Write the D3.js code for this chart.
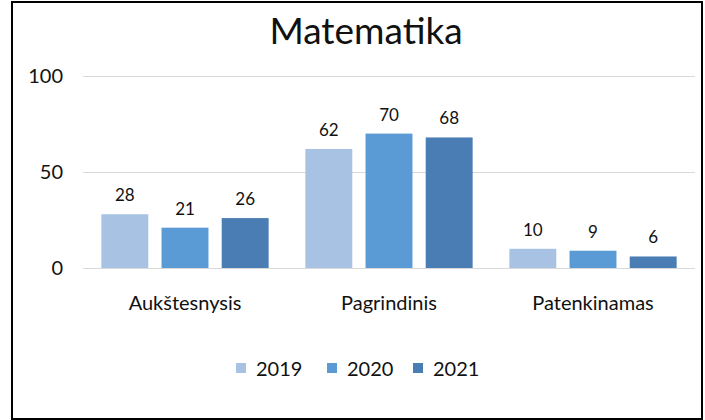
<!DOCTYPE html>
<html>
<head>
<meta charset="utf-8">
<script src="https://cdn.jsdelivr.net/npm/d3@7"></script>
<style>
  body { margin: 0; background: #fff; }
</style>
</head>
<body>
<script>
// data
let categories = ['Aukštesnysis', 'Pagrindinis', 'Patenkinamas'];
let years = ['2019', '2020', '2021'];
let values2019 = [28, 62, 10];
let values2020 = [21, 70, 9];
let values2021 = [26, 68, 6];
let yTicks = [0, 50, 100];
let colors = ['#a7c2e3', '#5b9bd5', '#4a7db3'];

let seriesValues = [values2019, values2020, values2021];
let rows = categories.map((c, i) => ({ category: c, values: seriesValues.map(s => s[i]) }));

//---------------------------------------------------------------------------------------------------//

let width = 705, height = 420;
let svg = d3.select('body').append('svg').attr('width', width).attr('height', height);

// frame
svg.append('rect')
    .attr('x', 12).attr('y', 2)
    .attr('width', 690).attr('height', 417)
    .attr('fill', '#fff').attr('stroke', '#000').attr('stroke-width', 2);

let font = 'Lato, "Open Sans", sans-serif';

let left = 83, right = 695;
let x0 = d3.scaleBand().domain(categories).range([left, right]).paddingInner(0.18).paddingOuter(0.09);
let x1 = d3.scaleBand().domain(years).range([0, x0.bandwidth()]).paddingInner(0.22);
let y = d3.scaleLinear().domain([0, 100]).range([268, 76]);

// title
svg.append('text')
    .attr('x', 366).attr('y', 44)
    .attr('text-anchor', 'middle')
    .attr('font-family', font).attr('font-size', 37)
    .attr('fill', '#111')
    .text('Matematika');

// gridlines + y axis
let yAxis = d3.axisLeft(y).tickValues(yTicks).tickSize(-(right - left));
let yAxisGroup = svg.append('g').attr('transform', 'translate(' + left + ',0)').call(yAxis);
yAxisGroup.select('.domain').remove();
yAxisGroup.selectAll('line').attr('stroke', '#d9d9d9').attr('stroke-width', 1);
yAxisGroup.selectAll('text')
    .attr('font-family', font).attr('font-size', 20).attr('fill', '#111')
    .attr('text-anchor', 'end').attr('x', -20);

// bars
let groups = svg.selectAll('g.cat').data(rows).enter().append('g')
    .attr('class', 'cat')
    .attr('transform', d => 'translate(' + x0(d.category) + ',0)');

groups.selectAll('rect').data(d => d.values).enter().append('rect')
    .attr('x', (d, i) => x1(years[i]))
    .attr('y', d => y(d))
    .attr('width', x1.bandwidth())
    .attr('height', d => y(0) - y(d))
    .attr('fill', (d, i) => colors[i]);

groups.selectAll('text').data(d => d.values).enter().append('text')
    .attr('x', (d, i) => x1(years[i]) + x1.bandwidth() / 2)
    .attr('y', d => y(d) - 13)
    .attr('text-anchor', 'middle')
    .attr('font-family', font).attr('font-size', 17).attr('fill', '#111')
    .text(d => d);

// x axis labels
let xAxis = d3.axisBottom(x0).tickSize(0).tickPadding(28);
let xAxisGroup = svg.append('g').attr('transform', 'translate(0,268)').call(xAxis);
xAxisGroup.select('.domain').remove();
xAxisGroup.selectAll('text')
    .attr('font-family', font).attr('font-size', 20).attr('fill', '#111');

// legend
let legendX = [236, 327, 413];
let legend = svg.selectAll('g.legend').data(years).enter().append('g')
    .attr('class', 'legend')
    .attr('transform', (d, i) => 'translate(' + legendX[i] + ',368)');
legend.append('rect')
    .attr('x', 0).attr('y', -5)
    .attr('width', 10).attr('height', 10)
    .attr('fill', (d, i) => colors[i]);
legend.append('text')
    .attr('x', 20).attr('y', 8)
    .attr('font-family', font).attr('font-size', 20).attr('fill', '#111')
    .text(d => d);
</script>
</body>
</html>
